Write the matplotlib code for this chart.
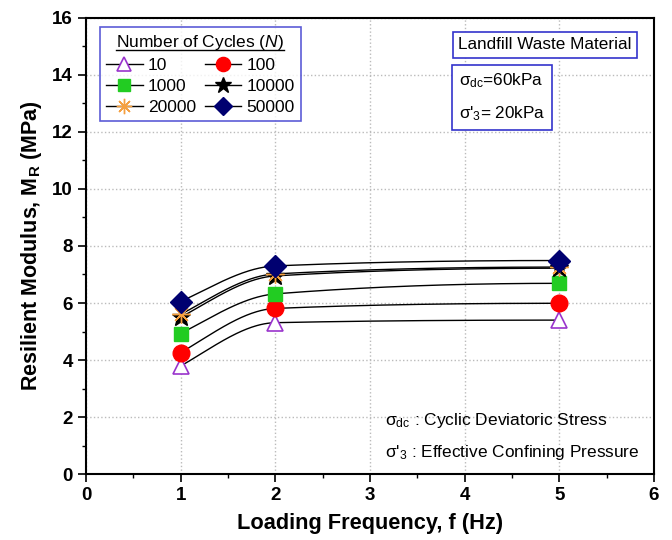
import numpy as np
import matplotlib
matplotlib.use("Agg")
import matplotlib.pyplot as plt
from matplotlib.lines import Line2D

plt.rcParams["font.family"] = ["Liberation Sans", "DejaVu Sans"]
plt.rcParams["mathtext.fontset"] = "custom"
plt.rcParams["mathtext.rm"] = "Liberation Sans"
plt.rcParams["mathtext.it"] = "Liberation Sans:italic"
plt.rcParams["mathtext.bf"] = "Liberation Sans:bold"

freq = [1, 2, 5]
cycles = ["10", "100", "1000", "10000", "20000", "50000"]
mr_10 = [3.79, 5.31, 5.40]
mr_100 = [4.26, 5.81, 5.99]
mr_1000 = [4.93, 6.32, 6.69]
mr_10000 = [5.50, 6.95, 7.22]
mr_20000 = [5.60, 7.02, 7.26]
mr_50000 = [6.05, 7.30, 7.49]

series = [mr_10, mr_100, mr_1000, mr_10000, mr_20000, mr_50000]
styles = [
    dict(marker="^", mfc="white", mec="#9933cc", ms=12, mew=1.2),
    dict(marker="o", mfc="red", mec="red", ms=12),
    dict(marker="s", mfc="#22cc22", mec="#22cc22", ms=10),
    dict(marker="*", mfc="black", mec="black", ms=14),
    dict(marker=(8, 2, 0), mfc="#f5a040", mec="#f5a040", ms=13, mew=1.0),
    dict(marker="D", mfc="#000070", mec="#000070", ms=11),
]


def pchip(x, y, xs):
    # monotone cubic through the measured points (smooth connecting line)
    x = np.asarray(x, float)
    y = np.asarray(y, float)
    h = np.diff(x)
    d = np.diff(y) / h
    m = np.zeros_like(y)
    for k in range(1, len(x) - 1):
        if d[k - 1] * d[k] > 0:
            w1 = 2 * h[k] + h[k - 1]
            w2 = h[k] + 2 * h[k - 1]
            m[k] = (w1 + w2) / (w1 / d[k - 1] + w2 / d[k])
    m[0] = ((2 * h[0] + h[1]) * d[0] - h[0] * d[1]) / (h[0] + h[1])
    if np.sign(m[0]) != np.sign(d[0]):
        m[0] = 0
    m[-1] = ((2 * h[-1] + h[-2]) * d[-1] - h[-1] * d[-2]) / (h[-1] + h[-2])
    if np.sign(m[-1]) != np.sign(d[-1]):
        m[-1] = 0
    idx = np.clip(np.searchsorted(x, xs) - 1, 0, len(x) - 2)
    t = (xs - x[idx]) / h[idx]
    h00 = 2 * t ** 3 - 3 * t ** 2 + 1
    h10 = t ** 3 - 2 * t ** 2 + t
    h01 = -2 * t ** 3 + 3 * t ** 2
    h11 = t ** 3 - t ** 2
    return (h00 * y[idx] + h10 * h[idx] * m[idx]
            + h01 * y[idx + 1] + h11 * h[idx] * m[idx + 1])


fig = plt.figure(figsize=(6.72, 5.4), dpi=100)
ax = fig.add_axes([0.128, 0.122, 0.845, 0.845])

xs = np.linspace(1, 5, 300)
handles = []
for y in series:
    ax.plot(xs, pchip(freq, y, xs), color="black", lw=1.0, zorder=2)
for y, st, lab in zip(series, styles, cycles):
    ax.plot(freq, y, ls="none", zorder=3, **st)
    h, = ax.plot([], [], color="black", lw=1.0, label=lab, **st)
    handles.append(h)

ax.set_xlim(0, 6)
ax.set_ylim(0, 16)
ax.set_xticks(range(0, 7))
ax.set_yticks(range(0, 17, 2))
ax.set_xticks(np.arange(0.5, 6, 1), minor=True)
ax.set_yticks(range(1, 16, 2), minor=True)
ax.tick_params(which="major", direction="out", length=6, width=1.2, labelsize=13.5)
ax.tick_params(which="minor", direction="out", length=3, width=1.0)
for lb in ax.get_xticklabels() + ax.get_yticklabels():
    lb.set_fontweight("bold")
for sp in ax.spines.values():
    sp.set_linewidth(1.5)
ax.grid(True, which="major", ls=":", color="#bbbbbb", lw=1.0)
ax.set_axisbelow(True)

ax.set_xlabel("Loading Frequency, f (Hz)", fontsize=15.7, fontweight="bold", labelpad=6)
ax.set_ylabel("Resilient Modulus, M$_\\mathbf{R}$ (MPa)", fontsize=15.5,
              fontweight="bold", labelpad=6)

order = [0, 2, 4, 1, 3, 5]
leg = ax.legend(handles=[handles[i] for i in order], ncol=2, loc="upper left",
                bbox_to_anchor=(0.0246, 0.98), fontsize=12.5, frameon=True,
                fancybox=False, edgecolor="#3333cc", handlelength=2.1,
                handletextpad=0.3, columnspacing=0.5, borderpad=0.35,
                labelspacing=0.33, numpoints=1, markerscale=0.85,
                title="Number of Cycles ($\\it{N}$)", title_fontsize=12.5,
                borderaxespad=0)
leg.get_frame().set_linewidth(1.2)

box = dict(boxstyle="square,pad=0.3", fc="white", ec="#3333cc", lw=1.2)
ax.text(0.655, 0.957, "Landfill Waste Material", transform=ax.transAxes,
        fontsize=12.3, va="top", ha="left", bbox=box)
sig_box = dict(boxstyle="square,pad=0.4", fc="white", ec="#3333cc", lw=1.2)
ax.text(0.657, 0.882, "σ$_\\mathrm{dc}$=60kPa\n\nσ'$_\\mathrm{3}$= 20kPa",
        transform=ax.transAxes, fontsize=12.3, va="top", ha="left", bbox=sig_box,
        linespacing=0.95)
ax.text(0.527, 0.118, "σ$_\\mathrm{dc}$ : Cyclic Deviatoric Stress",
        transform=ax.transAxes, fontsize=12.5, va="center", ha="left")
ax.text(0.527, 0.048, "σ'$_\\mathrm{3}$ : Effective Confining Pressure",
        transform=ax.transAxes, fontsize=12.4, va="center", ha="left")

# underline the legend title
fig.canvas.draw()
bb = leg.get_title().get_window_extent().transformed(fig.transFigure.inverted())
fig.add_artist(Line2D([bb.x0, bb.x1], [bb.y0 + 0.003, bb.y0 + 0.003],
                      color="black", lw=1.0, transform=fig.transFigure))

fig.savefig("out.png", dpi=100)
